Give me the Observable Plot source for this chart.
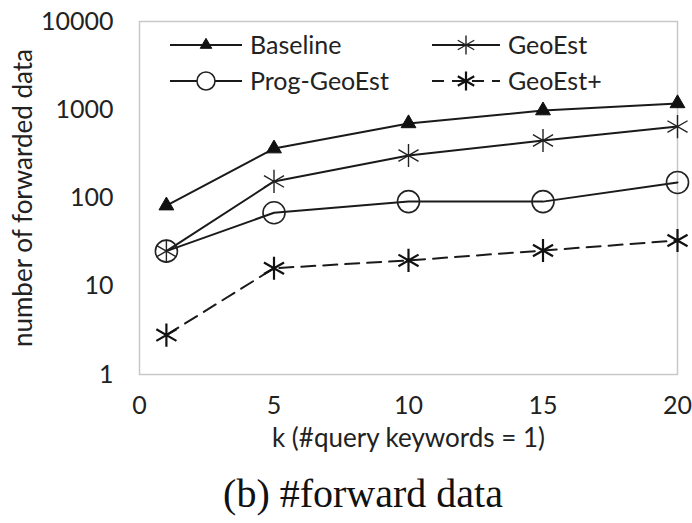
<!DOCTYPE html>
<html>
<head>
<meta charset="utf-8">
<script src="https://cdn.jsdelivr.net/npm/d3@7"></script>
<script src="https://cdn.jsdelivr.net/npm/@observablehq/plot@0.6"></script>
<style>
  html, body { margin: 0; padding: 0; background: white; }
  #wrap { position: relative; width: 692px; height: 523px; overflow: hidden; }
  #legend { position: absolute; left: 0; top: 0; }
  #caption { position: absolute; left: 0; top: 472px; width: 692px; text-align: center; padding-left: 34px; box-sizing: border-box;
             font-family: "Liberation Serif", "Times New Roman", serif; font-size: 40px; line-height: 44px; color: #111; }
</style>
</head>
<body>
<div id="wrap">
  <div id="chart"></div>
  <svg id="legend" width="692" height="460"></svg>
  <div id="caption">(b) #forward data</div>
</div>
<script>
// ---- data ----
const ks = [1, 5, 10, 15, 20];
const seriesNames = ["Baseline", "GeoEst", "Prog-GeoEst", "GeoEst+"];
const baseline   = [82, 363, 700, 980, 1180];
const geoEst     = [25, 154, 303, 448, 645];
const progGeoEst = [25, 68, 91, 91, 150];
const geoEstPlus = [2.8, 16, 19.6, 25.4, 33];
const xTicks = [0, 5, 10, 15, 20];
const yTicks = [1, 10, 100, 1000, 10000];
const xLabel = "k (#query keywords = 1)";
const yLabel = "number of forwarded data";

const values = [baseline, geoEst, progGeoEst, geoEstPlus];
const rows = [];
seriesNames.forEach((s, i) => ks.forEach((k, j) => rows.push({series: s, k, v: values[i][j]})));
const of = s => rows.filter(d => d.series === s);

// styles per series
const style = {
  "Baseline":    {symbol: "triangle", r: 5.5, fill: "#111", stroke: "#111", sw: 1, dash: null},
  "GeoEst":      {symbol: "asterisk", r: 11, fill: "none", stroke: "#222", sw: 1.4, dash: null},
  "Prog-GeoEst": {symbol: "circle", r: 11, fill: "none", stroke: "#222", sw: 1.6, dash: null},
  "GeoEst+":     {symbol: "asterisk", r: 11, fill: "none", stroke: "#111", sw: 2.2, dash: "14,8"}
};

const marks = [Plot.frame({stroke: "#c8c8c8", strokeWidth: 1.5})];
for (const s of seriesNames) {
  const st = style[s];
  marks.push(Plot.line(of(s), {x: "k", y: "v", stroke: "#1a1a1a", strokeWidth: 2, strokeDasharray: st.dash}));
}
for (const s of seriesNames) {
  const st = style[s];
  marks.push(Plot.dot(of(s), {x: "k", y: "v", symbol: () => st.symbol, r: st.r, fill: st.fill, stroke: st.stroke, strokeWidth: st.sw}));
}

const chart = Plot.plot({
  width: 692, height: 460,
  marginTop: 21, marginLeft: 139, marginRight: 15, marginBottom: 86,
  style: {fontFamily: "Lato, 'Open Sans', sans-serif", fontSize: "25px", color: "#222", background: "white", overflow: "visible"},
  x: {domain: [0, 20], ticks: xTicks, tickSize: 0, tickPadding: 22, label: xLabel, labelAnchor: "center", labelOffset: 72, labelArrow: "none"},
  y: {type: "log", domain: [1, 10000], ticks: yTicks, tickFormat: d => String(d), tickSize: 0, tickPadding: 26,
      label: yLabel, labelAnchor: "center", labelOffset: 126, labelArrow: "none"},
  symbol: {type: "identity"},
  marks
});
document.getElementById("chart").appendChild(chart);
// slightly larger axis titles, as in the reference
d3.select(chart).selectAll("g[aria-label='y-axis label'] text, g[aria-label='x-axis label'] text").attr("font-size", 26);

// ---- legend (inside plot area, top-left) ----
const lg = d3.select("#legend");
const legendItems = [
  {name: "Baseline",    col: 0, row: 0},
  {name: "GeoEst",      col: 1, row: 0},
  {name: "Prog-GeoEst", col: 0, row: 1},
  {name: "GeoEst+",     col: 1, row: 1}
];
const colX = [{x0: 170, x1: 242, t: 250}, {x0: 432, x1: 500, t: 508}];
const rowY = [45, 81];
const symMap = {triangle: d3.symbolTriangle2, asterisk: d3.symbolAsterisk, circle: d3.symbolCircle};
for (const it of legendItems) {
  const st = style[it.name];
  const c = colX[it.col], y = rowY[it.row];
  const g = lg.append("g");
  g.append("line").attr("x1", c.x0).attr("x2", c.x1).attr("y1", y).attr("y2", y)
    .attr("stroke", "#1a1a1a").attr("stroke-width", 2).attr("stroke-dasharray", st.dash ? "12,8" : null);
  const cx = (c.x0 + c.x1) / 2;
  const rr = it.name === "Prog-GeoEst" ? 9 : (st.symbol === "asterisk" ? 9 : 5.5);
  g.append("path").attr("transform", `translate(${cx},${y})`)
    .attr("d", d3.symbol(symMap[st.symbol], Math.PI * rr * rr)())
    .attr("fill", st.symbol === "circle" ? "white" : st.fill).attr("stroke", st.stroke).attr("stroke-width", st.sw);
  g.append("text").attr("x", c.t).attr("y", y).attr("dy", "0.35em")
    .attr("font-family", "Lato, 'Open Sans', sans-serif").attr("font-size", 25).attr("fill", "#222").text(it.name);
}
</script>
</body>
</html>
